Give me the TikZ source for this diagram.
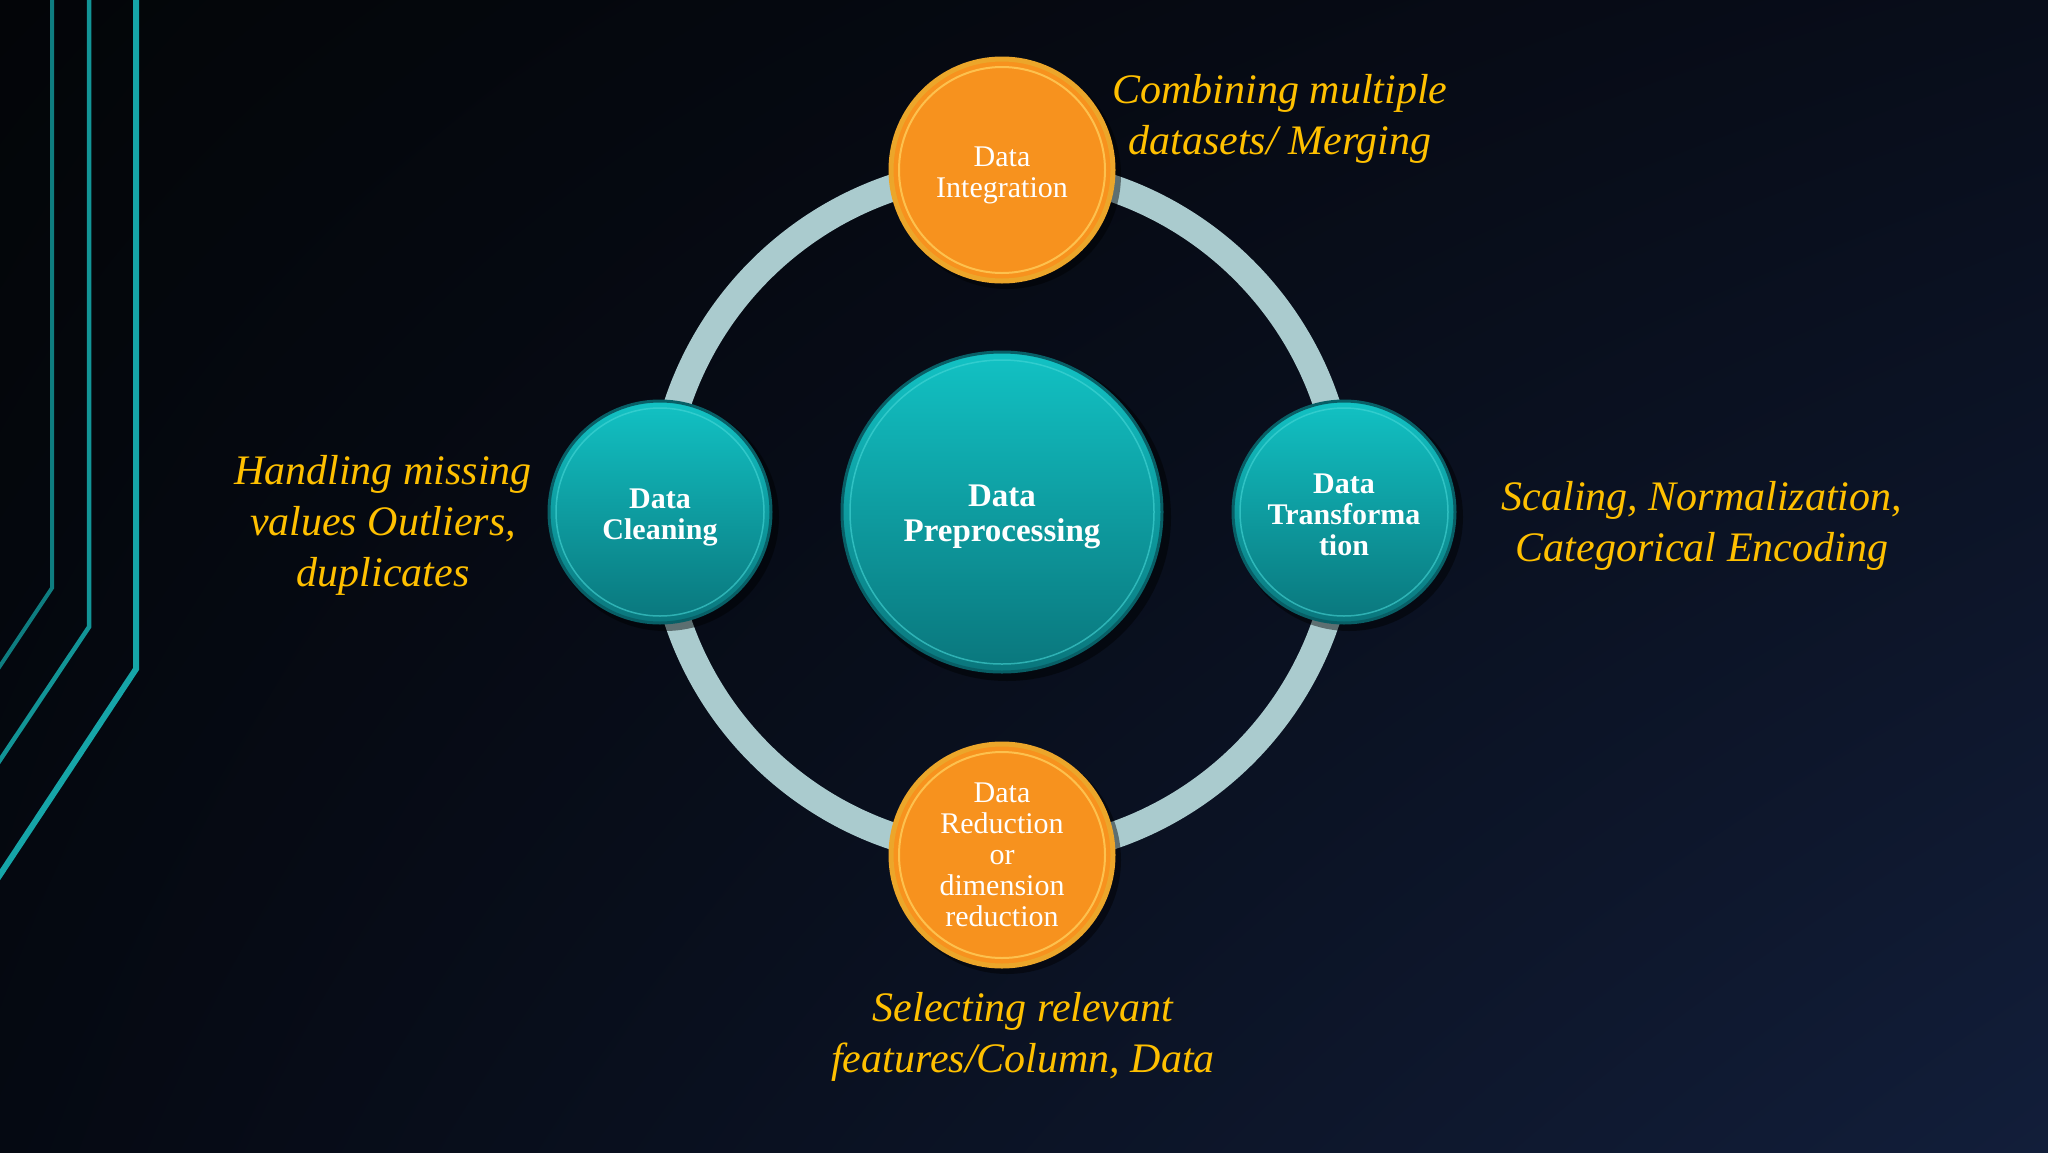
\documentclass[tikz,border=0pt]{standalone}
\usepackage{fontspec}
\setmainfont{Liberation Serif}
\usetikzlibrary{shadings}
\definecolor{bgul}{RGB}{3,5,8}
\definecolor{bgur}{RGB}{8,13,26}
\definecolor{bgll}{RGB}{5,9,18}
\definecolor{bglr}{RGB}{18,30,58}
\definecolor{gold}{RGB}{255,192,0}
\definecolor{ringc}{RGB}{170,203,206}
\definecolor{tealtop}{RGB}{18,194,196}
\definecolor{tealbot}{RGB}{10,118,124}
\definecolor{tealrim}{RGB}{8,95,102}
\definecolor{tealhi}{RGB}{70,215,215}
\definecolor{orangefill}{RGB}{247,146,30}
\definecolor{orangerim}{RGB}{236,166,42}
\definecolor{orangehi}{RGB}{255,205,90}
\definecolor{lineA}{RGB}{14,125,128}
\definecolor{lineB}{RGB}{18,148,150}
\definecolor{lineC}{RGB}{22,165,168}
\tikzset{
  tealball/.style={circle, minimum size=222pt, inner sep=0pt, top color=tealtop, bottom color=tealbot,
    draw=tealrim, line width=3pt},
  bigball/.style={tealball, minimum size=320pt},
  orangeball/.style={circle, minimum size=222pt, inner sep=0pt, fill=orangefill,
    draw=orangerim, line width=5pt},
  balltext/.style={text=white, align=center, inner sep=0pt, font=\fontsize{30}{31}\selectfont},
  boldtext/.style={balltext, font=\bfseries\fontsize{30}{31}\selectfont},
  bigtext/.style={balltext, font=\bfseries\fontsize{33}{35}\selectfont},
  note/.style={text=gold, align=center, font=\itshape\fontsize{42}{51}\selectfont},
  ringline/.style={draw=ringc, line width=27pt},
  tealrimhi/.style={draw=tealhi, line width=1.5pt, opacity=0.6},
  orangerimhi/.style={draw=orangehi, line width=2pt, opacity=0.8},
  shadowc/.style={fill=black, opacity=0.45},
  deco/.style={line width=#1, line join=miter}
}
\begin{document}
\begin{tikzpicture}[x=1pt,y=-1pt]
\useasboundingbox (0,0) rectangle (2048,1152);
\clip (0,0) rectangle (2048,1152);
\shade[upper left=bgul, upper right=bgur, lower left=bgll, lower right=bglr] (0,0) rectangle (2048,1152);

% decorative left lines
\draw[deco=4pt, lineA] (52,-10) -- (52,588) -- (-20,696);
\draw[deco=4.5pt, lineB] (89,-10) -- (89,627) -- (-20,790);
\draw[deco=6pt, lineC] (136,-10) -- (136,669) -- (-20,905);

% centre and ring
\coordinate (c) at (1002,512);
\draw[ringline] (c) circle[radius=342];

% shadows
\fill[shadowc] (1007,517) circle[radius=164];
\fill[shadowc] (1007,175) circle[radius=114];
\fill[shadowc] (665,517) circle[radius=114];
\fill[shadowc] (1349,517) circle[radius=114];
\fill[shadowc] (1007,860) circle[radius=114];

% balls
\node[bigball] (pre) at (c) {};
\node[orangeball] (integ) at (1002,170) {};
\node[tealball] (clean) at (660,512) {};
\node[tealball] (trans) at (1344,512) {};
\node[orangeball] (reduc) at (1002,855) {};

\draw[tealrimhi] (pre.center) circle[radius=152];
\draw[tealrimhi] (clean.center) circle[radius=104];
\draw[tealrimhi] (trans.center) circle[radius=104];
\draw[orangerimhi] (integ.center) circle[radius=103];
\draw[orangerimhi] (reduc.center) circle[radius=103];

% ball texts
\node[bigtext] (preT) at ([yshift=-5pt]pre.center) {Data\\Preprocessing};
\node[balltext] (integT) at ([yshift=-5pt]integ.center) {Data\\Integration};
\node[boldtext] (cleanT) at ([yshift=-5pt]clean.center) {Data\\Cleaning};
\node[boldtext] (transT) at ([yshift=-3pt]trans.center) {Data\\Transforma\\tion};
\node[balltext] (reducT) at (reduc.center) {Data\\Reduction\\or\\dimension\\reduction};

% notes
\node[note] (nInteg) at (1280,119) {Combining multiple\\datasets/ Merging};
\node[note] (nClean) at (383,525) {Handling missing\\values Outliers,\\duplicates};
\node[note] (nTrans) at (1702,526) {Scaling, Normalization,\\Categorical Encoding};
\node[note] (nReduc) at (1023,1037) {Selecting relevant\\features/Column, Data};
\end{tikzpicture}
\end{document}
